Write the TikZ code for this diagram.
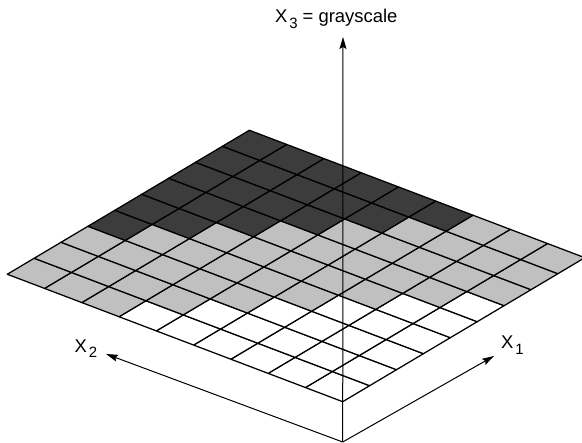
\documentclass[tikz,border=0pt]{standalone}
\usepackage{fontspec}
\setmainfont{Liberation Sans}
\usetikzlibrary{arrows.meta, calc}
\definecolor{darkcell}{RGB}{60,60,60}
\definecolor{lightcell}{RGB}{192,192,192}
\newcommand{\axisidx}[1]{\kern1.8bp\raisebox{-5.5bp}{\fontsize{15}{15}\selectfont #1}}

\begin{document}
\begin{tikzpicture}[x=1bp, y=-1bp,
    cellline/.style={black, line width=1.25bp, line join=round},
    axisline/.style={black, line width=1bp, -{Stealth[length=12bp, width=7bp, inset=2bp]}},
    axislabel/.style={font=\fontsize{18.5}{18.5}\selectfont, inner sep=0pt, anchor=base west}]
  \useasboundingbox (0,0) rectangle (582,443);
  % front corner of the plane and the two cell steps
  \coordinate (F) at (342.7,401.7);
  \coordinate (a) at (26.9,-16);
  \coordinate (b) at (-37.27,-14.16);
  % 9x9 cells, shade by i+j
  \foreach \i in {0,...,8}{
    \foreach \j in {0,...,8}{
      \pgfmathtruncatemacro{\s}{\i+\j}
      \ifnum\s>10 \def\cellcol{darkcell}\else
        \ifnum\s<6 \def\cellcol{white}\else \def\cellcol{lightcell}\fi\fi
      \filldraw[cellline, fill=\cellcol] ($(F)+\i*(a)+\j*(b)$) -- ++(a) -- ++(b) -- ++($-1*(a)$) -- cycle;
    }
  }
  % axes
  \coordinate (O) at (342.7,442);
  \coordinate (x1tip) at (494,356);
  \coordinate (x2tip) at (106,354);
  \coordinate (x3tip) at (343,37);
  \draw[axisline] (O) -- (x3tip);
  \draw[axisline] (O) -- (x1tip);
  \draw[axisline] (O) -- (x2tip);
  \node[axislabel] (x3label) at (275,23) {X\axisidx{3} = grayscale};
  \node[axislabel] (x2label) at (74.5,352) {X\axisidx{2}};
  \node[axislabel] (x1label) at (501,348.5) {X\axisidx{1}};
\end{tikzpicture}
\end{document}
